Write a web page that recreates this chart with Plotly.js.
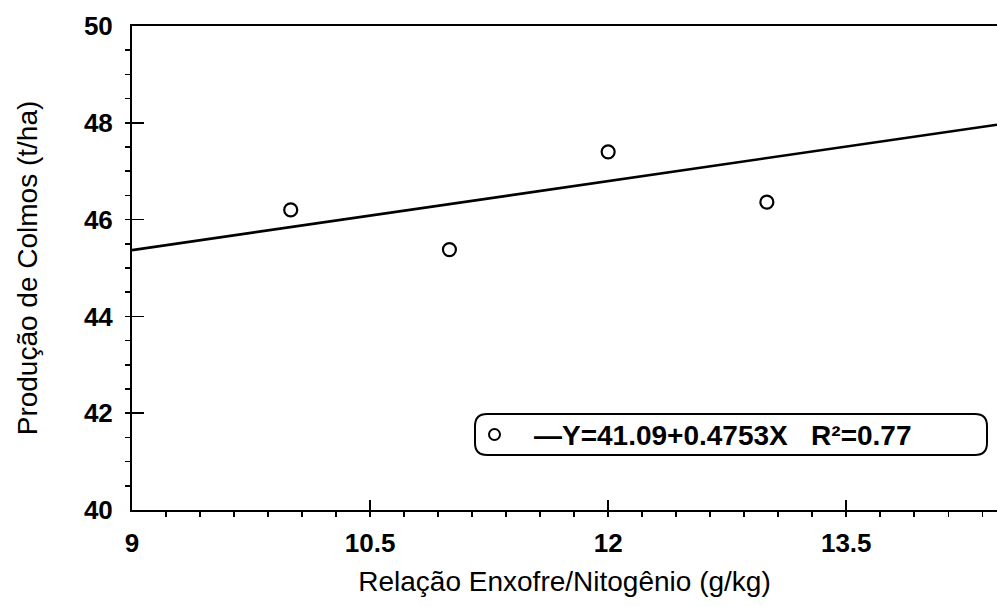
<!DOCTYPE html>
<html>
<head>
<meta charset="utf-8">
<script src="https://cdn.plot.ly/plotly-3.0.1.min.js"></script>
<style>html,body{margin:0;padding:0;background:#fff;}#chart{width:997px;height:607px;}</style>
</head>
<body>
<div id="chart"></div>
<script>
// Observed points
const relacaoSN = [10, 11, 12, 13];
const producao = [46.2, 45.38, 47.4, 46.36];
// Fitted line endpoints
const linhaX = [9, 14.45];
const linhaY = [45.37, 47.96];
const legendaTexto = '\u2014Y=41.09+0.4753X   R\u00b2=0.77';
const xTicks = [9, 10.5, 12, 13.5];
const xTickText = ['9', '10.5', '12', '13.5'];
const yTicks = [40, 42, 44, 46, 48, 50];

const traces = [
  {x: linhaX, y: linhaY, mode: 'lines', line: {color: '#000', width: 2.6}, hoverinfo: 'skip', showlegend: false},
  {x: relacaoSN, y: producao, mode: 'markers', marker: {symbol: 'circle-open', size: 13, color: '#000', line: {width: 2.2, color: '#000'}}, showlegend: false}
];

function px(v) { return (v - 132) / (997 - 132); }
function py(v) { return (510 - v) / (510 - 26); }
function roundedRect(x0, y0, x1, y1, r) {
  const rx = r / 865, ry = r / 484;
  const a = px(x0), b = px(x1), t = py(y0), u = py(y1);
  return `M ${a + rx} ${t} L ${b - rx} ${t} Q ${b} ${t} ${b} ${t - ry} L ${b} ${u + ry} Q ${b} ${u} ${b - rx} ${u} L ${a + rx} ${u} Q ${a} ${u} ${a} ${u + ry} L ${a} ${t - ry} Q ${a} ${t} ${a + rx} ${t} Z`;
}

const layout = {
  width: 997, height: 607,
  margin: {l: 132, r: 0, t: 26, b: 97},
  paper_bgcolor: '#fff', plot_bgcolor: '#fff',
  font: {family: 'Liberation Sans, Arial, sans-serif', color: '#000'},
  showlegend: false,
  xaxis: {
    range: [9, 14.45], showgrid: false, zeroline: false,
    showline: true, linecolor: '#000', linewidth: 2, mirror: true,
    tickvals: xTicks, ticktext: xTickText,
    ticks: 'inside', ticklen: 10, tickwidth: 1.5, tickcolor: '#000',
    minor: {ticks: 'outside', ticklen: 5, tickwidth: 1.5, tickcolor: '#000', dtick: 1.5 / 7, tick0: 9, showgrid: false},
    tickfont: {size: 26, family: 'Liberation Sans, Arial, sans-serif', weight: 'bold'},
    ticklabelstandoff: 9,
    title: {text: 'Relação Enxofre/Nitogênio (g/kg)', font: {size: 28}, standoff: 14}
  },
  yaxis: {
    range: [40, 50], showgrid: false, zeroline: false,
    showline: true, linecolor: '#000', linewidth: 2,
    tickvals: yTicks, ticks: 'inside', ticklen: 12, tickwidth: 1.5, tickcolor: '#000',
    minor: {ticks: 'outside', ticklen: 5, tickwidth: 1.5, tickcolor: '#000', dtick: 0.5, tick0: 40, showgrid: false},
    tickfont: {size: 26, family: 'Liberation Sans, Arial, sans-serif', weight: 'bold'},
    ticklabelstandoff: 12,
    title: {text: 'Produção de Colmos (t/ha)', font: {size: 28}, standoff: 38}
  },
  shapes: [
    {type: 'path', xref: 'paper', yref: 'paper', layer: 'above',
     path: roundedRect(475, 414, 987, 455, 12), line: {color: '#000', width: 2}},
    {type: 'circle', xref: 'paper', yref: 'paper',
     x0: px(489), x1: px(500), y0: py(440), y1: py(429), line: {color: '#000', width: 2}}
  ],
  annotations: [
    {xref: 'paper', yref: 'paper', x: px(532), y: py(435), xanchor: 'left', yanchor: 'middle',
     text: legendaTexto, showarrow: false, font: {size: 28, weight: 'bold'}}
  ]
};

Plotly.newPlot('chart', traces, layout, {displayModeBar: false, staticPlot: true});
</script>
</body>
</html>
